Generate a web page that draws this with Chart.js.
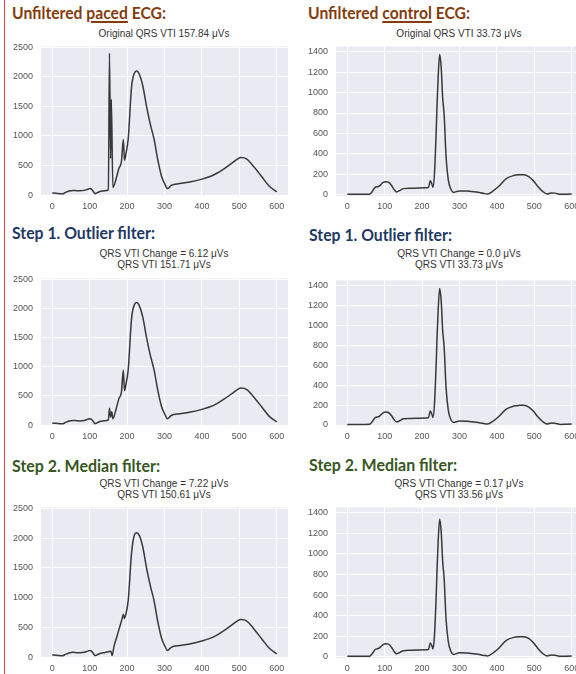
<!DOCTYPE html>
<html><head><meta charset="utf-8">
<script src="https://cdn.jsdelivr.net/npm/chart.js@4.4.1/dist/chart.umd.min.js"></script>
<style>
html,body{margin:0;padding:0;background:#fff;}
body{width:576px;height:674px;overflow:hidden;position:relative;}
.h{position:absolute;font-family:Lato,"Open Sans",sans-serif;font-weight:700;font-size:17px;line-height:20px;white-space:nowrap;transform-origin:0 50%;}
.h u{text-decoration-thickness:1.5px;text-underline-offset:2px;}
.brown{color:#843c0c;}
.blue{color:#1f3864;}
.green{color:#385723;}
.s{position:absolute;width:300px;text-align:center;font-family:"Liberation Sans",Arial,sans-serif;font-size:10px;line-height:11px;color:#333;white-space:nowrap;}
canvas{position:absolute;}
#redline{position:absolute;left:4px;top:0;width:1px;height:674px;background:#d9404a;}
</style></head><body>
<div id="redline"></div>
<div class="h brown" data-w="154" style="left:12px;top:3px">Unfiltered <u>paced</u> ECG:</div>
<div class="h brown" data-w="162" style="left:308px;top:3px">Unfiltered <u>control</u> ECG:</div>
<div class="h blue" data-w="143" style="left:12px;top:223px">Step 1. Outlier filter:</div>
<div class="h blue" data-w="143" style="left:309px;top:225px">Step 1. Outlier filter:</div>
<div class="h green" data-w="148" style="left:12px;top:456px">Step 2. Median filter:</div>
<div class="h green" data-w="148" style="left:309px;top:455px">Step 2. Median filter:</div>

<div class="s" style="left:14px;top:28px">Original QRS VTI 157.84 μVs</div>
<div class="s" style="left:309px;top:28px">Original QRS VTI 33.73 μVs</div>
<div class="s" style="left:14px;top:248px">QRS VTI Change = 6.12 μVs<br>QRS VTI 151.71 μVs</div>
<div class="s" style="left:309px;top:248px">QRS VTI Change = 0.0 μVs<br>QRS VTI 33.73 μVs</div>
<div class="s" style="left:14px;top:478px">QRS VTI Change = 7.22 μVs<br>QRS VTI 150.61 μVs</div>
<div class="s" style="left:309px;top:478px">QRS VTI Change = 0.17 μVs<br>QRS VTI 33.56 μVs</div>

<script>
// ---- tick labels ----
const xTicks = [0, 100, 200, 300, 400, 500, 600];
const pacedYTicks = [0, 500, 1000, 1500, 2000, 2500];
const controlYTicks = [0, 200, 400, 600, 800, 1000, 1200, 1400];

// ---- paced ECG, original ----
const pacedOrigX = [0,10,20,27,35,45,55,65,75,85,95,100,105,110,114,120,130,140,150,153,156,158,162,170,178,185,190,193,197,203,212,220,226,233,242,252,262,272,282,292,300,308,318,340,370,400,420,440,460,480,495,505,520,540,560,580,600];
const pacedOrigY = [35,32,25,22,45,70,80,75,72,80,100,110,100,60,25,40,65,75,90,2400,620,1620,130,260,450,570,940,590,700,950,1830,2070,2100,2040,1850,1500,1200,950,600,320,200,110,165,195,225,270,310,370,450,540,610,635,610,470,310,150,55];

// ---- paced ECG, after outlier filter ----
const pacedOutlierX = [0,10,20,27,35,45,55,65,75,85,95,100,105,110,114,120,130,140,150,153,156,159,162,170,178,185,190,193,197,203,212,220,226,233,242,252,262,272,282,292,300,308,318,340,370,400,420,440,460,480,495,505,520,540,560,580,600];
const pacedOutlierY = [35,32,25,22,45,70,80,75,72,80,100,110,100,60,25,40,65,75,90,290,140,230,110,260,450,570,940,590,700,950,1830,2070,2100,2040,1850,1500,1200,950,600,320,200,110,165,195,225,270,310,370,450,540,610,635,610,470,310,150,55];

// ---- paced ECG, after median filter ----
const pacedMedianX = [0,10,20,27,35,45,55,65,75,85,95,100,105,110,114,120,130,140,150,157,160,165,172,180,187,190,193,196,203,212,220,226,233,242,252,262,272,282,292,300,308,318,340,370,400,420,440,460,480,495,505,520,540,560,580,600];
const pacedMedianY = [35,32,25,22,45,70,80,75,72,80,100,110,100,60,25,40,65,75,90,100,25,180,330,500,650,720,650,700,950,1750,2060,2090,2040,1850,1500,1200,950,600,320,200,110,165,195,225,270,310,370,450,540,610,630,605,465,305,150,55];

// ---- control ECG, original ----
const controlOrigX = [0,30,60,68,74,85,95,102,110,118,125,132,141,150,170,190,210,217,222,226,229,233,238,240,243,247,251,255,259,264,270,277,284,300,320,345,365,375,390,405,425,445,460,472,485,497,510,522,534,545,555,570,585,600];
const controlOrigY = [6,6,8,40,72,85,120,130,125,95,55,30,45,62,65,68,70,72,140,110,75,200,650,880,1150,1370,1250,950,780,380,150,55,25,40,38,28,15,10,40,85,160,190,197,198,180,140,80,35,10,20,18,6,8,10];

// ---- control ECG, after outlier filter (unchanged: change = 0.0) ----
const controlOutlierX = [0,30,60,68,74,85,95,102,110,118,125,132,141,150,170,190,210,217,222,226,229,233,238,240,243,247,251,255,259,264,270,277,284,300,320,345,365,375,390,405,425,445,460,472,485,497,510,522,534,545,555,570,585,600];
const controlOutlierY = [6,6,8,40,72,85,120,130,125,95,55,30,45,62,65,68,70,72,140,110,75,200,650,880,1150,1370,1250,950,780,380,150,55,25,40,38,28,15,10,40,85,160,190,197,198,180,140,80,35,10,20,18,6,8,10];

// ---- control ECG, after median filter ----
const controlMedianX = [0,30,60,68,74,85,95,102,110,118,125,132,141,150,170,190,210,217,222,226,229,233,238,240,243,247,251,255,259,264,270,277,284,300,320,345,365,375,390,405,425,445,460,472,485,497,510,522,534,545,555,570,585,600];
const controlMedianY = [6,6,8,38,70,85,118,128,124,95,55,30,45,60,65,68,70,72,135,110,78,200,620,850,1120,1335,1220,930,760,370,150,55,25,40,38,28,15,10,40,85,160,190,196,197,180,140,80,35,10,18,16,6,8,10];

const YW = 40, PT = 8, XH = 20, PR = 12;
const panels = [
  {xs: pacedOrigX,      ys: pacedOrigY,      yt: pacedYTicks,   ymin: -15, ymax: 2515, box: [41, 41, 288, 196]},
  {xs: pacedOutlierX,   ys: pacedOutlierY,   yt: pacedYTicks,   ymin: -15, ymax: 2515, box: [41, 273, 288, 426]},
  {xs: pacedMedianX,    ys: pacedMedianY,    yt: pacedYTicks,   ymin: -15, ymax: 2515, box: [41, 502, 288, 658]},
  {xs: controlOrigX,    ys: controlOrigY,    yt: controlYTicks, ymin: -10, ymax: 1450, box: [336, 41, 583, 196]},
  {xs: controlOutlierX, ys: controlOutlierY, yt: controlYTicks, ymin: -10, ymax: 1450, box: [336, 275, 583, 426]},
  {xs: controlMedianX,  ys: controlMedianY,  yt: controlYTicks, ymin: -10, ymax: 1450, box: [336, 502, 583, 658]}
];

const bgPlugin = {
  id: 'bg',
  beforeDraw(c) {
    const a = c.chartArea, ctx = c.ctx;
    ctx.save();
    ctx.fillStyle = '#EAEAF2';
    ctx.fillRect(a.left, a.top, a.right - a.left, a.bottom - a.top);
    ctx.restore();
  }
};

const tickFont = {family: '"Liberation Sans", Arial, sans-serif', size: 9};
const plain = v => String(v);

panels.forEach(p => {
  const [l, t, r, b] = p.box;
  const cv = document.createElement('canvas');
  const w = r - l + YW + PR, h = b - t + PT + XH;
  cv.width = w; cv.height = h;
  cv.style.left = (l - YW) + 'px';
  cv.style.top = (t - PT) + 'px';
  cv.style.width = w + 'px'; cv.style.height = h + 'px';
  document.body.appendChild(cv);
  const data = p.xs.map((x, i) => ({x: x, y: p.ys[i]}));
  new Chart(cv, {
    type: 'line',
    data: {datasets: [{data: data, borderColor: '#383838', borderWidth: 1.5, pointRadius: 0, fill: false, cubicInterpolationMode: 'monotone'}]},
    options: {
      responsive: false, animation: false, devicePixelRatio: 1,
      layout: {padding: {left: 0, top: PT, right: PR, bottom: 0}},
      plugins: {legend: {display: false}, tooltip: {enabled: false}},
      scales: {
        x: {
          type: 'linear', min: -30, max: 630,
          afterBuildTicks: s => { s.ticks = xTicks.map(v => ({value: v})); },
          afterFit: s => { s.height = XH; },
          grid: {color: '#ffffff', lineWidth: 1, drawTicks: false},
          border: {display: false},
          ticks: {padding: 5, color: '#555', font: tickFont, maxRotation: 0, autoSkip: false, callback: plain}
        },
        y: {
          type: 'linear', min: p.ymin, max: p.ymax,
          afterBuildTicks: s => { s.ticks = p.yt.map(v => ({value: v})); },
          afterFit: s => { s.width = YW; },
          grid: {color: '#ffffff', lineWidth: 1, drawTicks: false},
          border: {display: false},
          ticks: {padding: 8, color: '#555', font: tickFont, autoSkip: false, callback: plain}
        }
      }
    },
    plugins: [bgPlugin]
  });
});

// compress headings horizontally to the reference widths (Calibri-like proportions)
function fitHeadings() {
  document.querySelectorAll('.h').forEach(el => {
    el.style.transform = '';
    const w = el.getBoundingClientRect().width;
    const target = parseFloat(el.dataset.w);
    if (w > 0) el.style.transform = 'scaleX(' + (target / w).toFixed(4) + ')';
  });
}
fitHeadings();
if (document.fonts && document.fonts.ready) document.fonts.ready.then(fitHeadings);
</script>
</body></html>
